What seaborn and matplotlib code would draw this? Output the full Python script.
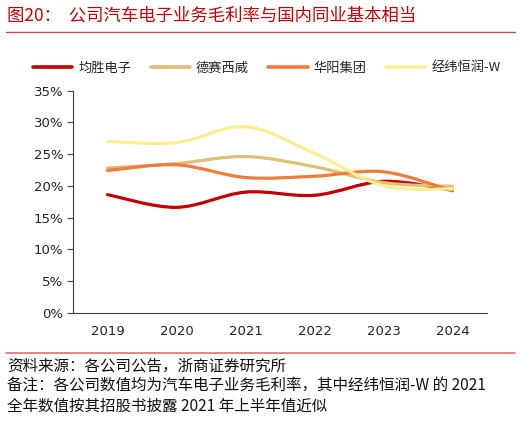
import numpy as np
import pandas as pd
import matplotlib
matplotlib.use("Agg")
import matplotlib.pyplot as plt
from matplotlib.path import Path
from matplotlib.patches import PathPatch
from matplotlib.lines import Line2D
import seaborn as sns

# =====================================================
# Data (gross margin of auto electronics business, %)
# =====================================================

years = ["2019", "2020", "2021", "2022", "2023", "2024"]
companies = ["均胜电子", "德赛西威", "华阳集团", "经纬恒润-W"]
joyson = [18.6, 16.6, 19.0, 18.5, 20.7, 19.3]
desay = [22.8, 23.5, 24.6, 23.0, 20.5, 19.9]
huayang = [22.4, 23.3, 21.3, 21.5, 22.2, 19.2]
hirain = [27.0, 26.8, 29.3, 25.1, 20.0, 19.5]
colors = ["#C00000", "#DDBF76", "#ED7D3A", "#FAEE93"]

yticks = [0, 5, 10, 15, 20, 25, 30, 35]

df = pd.DataFrame({
    "year": years * 4,
    "company": np.repeat(companies, len(years)),
    "margin": joyson + desay + huayang + hirain,
})
df["x"] = df["year"].map({y: i for i, y in enumerate(years)})

# =====================================================
# Figure
# =====================================================

sns.set_style("white")
plt.rcParams["font.family"] = ["Noto Sans CJK SC", "DejaVu Sans"]

fig = plt.figure(figsize=(5.2, 4.21), dpi=100)
ax = fig.add_axes([0.1404, 0.2573, 0.7961, 0.5275])

sns.lineplot(data=df, x="x", y="margin", hue="company", hue_order=companies,
             palette=colors, linewidth=2.3, legend=False, ax=ax)


# Excel-style smoothed lines (Catmull-Rom to Bezier) through the same points
def smooth_path(xs, ys):
    pts = np.column_stack([xs, ys])
    verts = [pts[0]]
    codes = [Path.MOVETO]
    n = len(pts)
    for i in range(n - 1):
        p0 = pts[i - 1] if i > 0 else pts[i]
        p1 = pts[i]
        p2 = pts[i + 1]
        p3 = pts[i + 2] if i + 2 < n else pts[i + 1]
        c1 = p1 + (p2 - p0) / 6.0
        c2 = p2 - (p3 - p1) / 6.0
        verts += [c1, c2, p2]
        codes += [Path.CURVE4] * 3
    return Path(verts, codes)


for line in list(ax.lines):
    xs, ys = line.get_xdata(), line.get_ydata()
    patch = PathPatch(smooth_path(np.asarray(xs, float), np.asarray(ys, float)),
                      fill=False, edgecolor=line.get_color(), linewidth=2.3,
                      capstyle="round", joinstyle="round", zorder=line.get_zorder())
    ax.add_patch(patch)
    line.set_visible(False)

ax.set_xlim(-0.5, len(years) - 0.5)
ax.set_ylim(0, 35)
ax.set_yticks(yticks)
ax.set_yticklabels([f"{v}%" for v in yticks], fontsize=9.5, color="#222222",
                   family="DejaVu Sans")
ax.set_xticks(range(len(years)))
ax.set_xticklabels(years, fontsize=9.5, color="#222222", family="DejaVu Sans")
ax.set_xticks(np.arange(-0.5, len(years), 1.0), minor=True)
ax.tick_params(axis="x", which="major", length=0, pad=9)
ax.tick_params(axis="x", which="minor", length=4, color="#404040", width=0.8)
ax.tick_params(axis="y", length=4, color="#404040", width=0.8, left=True, pad=3)
ax.set_xlabel("")
ax.set_ylabel("")
for side in ["top", "right"]:
    ax.spines[side].set_visible(False)
for side in ["left", "bottom"]:
    ax.spines[side].set_color("#404040")
    ax.spines[side].set_linewidth(0.8)

# Legend
handles = [Line2D([0], [0], color=c, linewidth=2.6) for c in colors]
fig.legend(handles, companies, loc="center", bbox_to_anchor=(0.513, 1 - 68 / 421),
           ncol=4, frameon=False, fontsize=9.5, handlelength=3.0,
           handletextpad=0.45, columnspacing=1.45)

# Title and rules
fig.text(7 / 520, 1 - 15 / 421, "图20：  公司汽车电子业务毛利率与国内同业基本相当",
         color="#C00000", fontsize=12.5, va="center", ha="left")
fig.add_artist(Line2D([6 / 520, 515 / 520], [1 - 31.5 / 421] * 2,
                      color="#C0504D", linewidth=1.0, transform=fig.transFigure))
fig.add_artist(Line2D([6 / 520, 515 / 520], [1 - 353 / 421] * 2,
                      color="#E07070", linewidth=1.2, transform=fig.transFigure))

notes = [
    "资料来源：各公司公告，浙商证券研究所",
    "备注：各公司数值均为汽车电子业务毛利率，其中经纬恒润-W 的 2021",
    "全年数值按其招股书披露 2021 年上半年值近似",
]
for i, t in enumerate(notes):
    fig.text(7 / 520, 1 - (366 + 20 * i) / 421, t, fontsize=11.2, color="#111111",
             va="center", ha="left")

fig.savefig("out.png", dpi=100)
